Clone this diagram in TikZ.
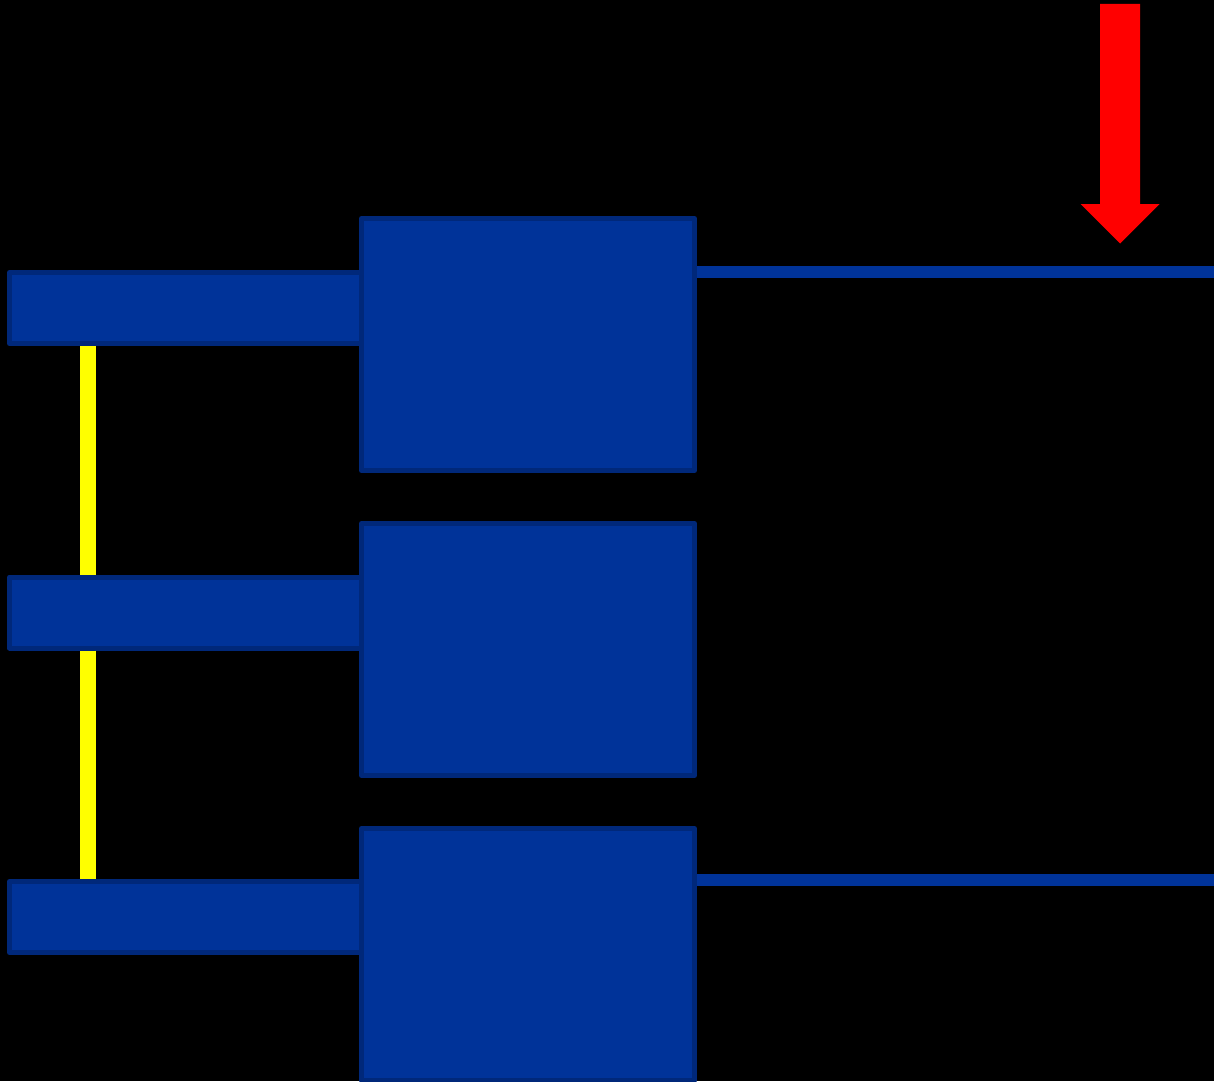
\documentclass[tikz,border=0pt]{standalone}
\usepackage{tikz}
\usetikzlibrary{positioning,calc}
\definecolor{blockblue}{HTML}{003399}
\definecolor{rimblue}{HTML}{00287A}
\definecolor{railyellow}{HTML}{FFFF00}
\definecolor{pushred}{HTML}{FF0000}

\begin{document}
\begin{tikzpicture}[x=1pt,y=-1pt,
    block/.style={rectangle,draw=rimblue,fill=blockblue,line width=5pt,line join=round,
      inner sep=0pt,outer sep=0pt,minimum width=333pt,minimum height=252pt},
    arm/.style={rectangle,draw=rimblue,fill=blockblue,line width=5pt,line join=round,
      inner sep=0pt,outer sep=0pt,minimum width=352pt,minimum height=71pt},
    rail/.style={draw=railyellow,line width=16pt,shorten <=2.5pt,shorten >=2.5pt},
    wire/.style={draw=blockblue,line width=12pt,shorten <=2.5pt}]
  \fill[black] (0,0) rectangle (1214,1081);
  \useasboundingbox (0,0) rectangle (1214,1081);
  \clip (0,0) rectangle (1214,1081);
  \coordinate (railx) at (88,0);
  \coordinate (rim) at (1214,0);
  % arms first, blocks on top of them
  \foreach \k in {1,2,3} {
    \node[arm] (arm\k) at (185.5,{308+(\k-1)*304.5}) {};
  }
  \foreach \k in {1,2,3} {
    \node[block] (block\k) at (528,{344.5+(\k-1)*305}) {};
  }
  \draw[rail] (arm1.south -| railx) -- (arm2.north -| railx);
  \draw[rail] (arm2.south -| railx) -- (arm3.north -| railx);
  \draw[wire] ([yshift=0.5pt]arm1.north -| block1.east) -- ([yshift=0.5pt]arm1.north -| rim);
  \draw[wire] ([yshift=1.5pt]arm3.north -| block3.east) -- ([yshift=1.5pt]arm3.north -| rim);
  % load arrow
  \fill[pushred] (1100,4) -- (1140,4) -- (1140,204) -- (1159.5,204)
    -- (1120,243.5) -- (1080.5,204) -- (1100,204) -- cycle;
\end{tikzpicture}
\end{document}
